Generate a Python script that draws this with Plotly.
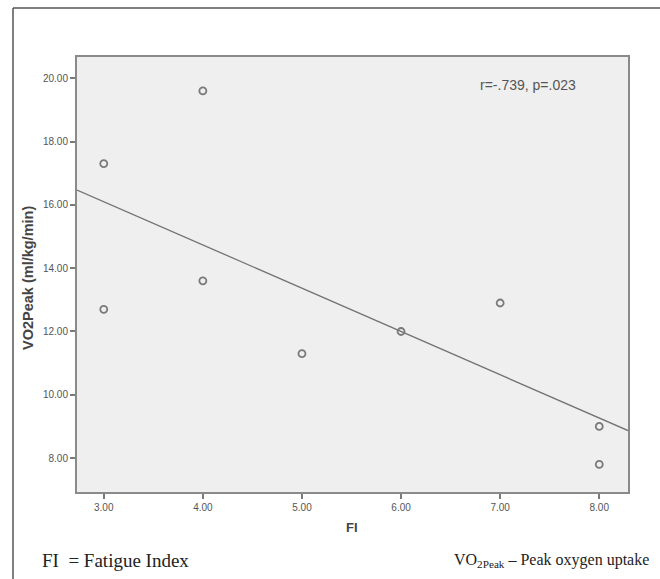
import numpy as np
import plotly.graph_objects as go

# Data
fi = [3, 3, 4, 4, 5, 6, 7, 8, 8]
vo2peak = [17.3, 12.7, 19.6, 13.6, 11.3, 12.0, 12.9, 9.0, 7.8]
x_ticks = [3, 4, 5, 6, 7, 8]
y_ticks = [8, 10, 12, 14, 16, 18, 20]
stat_text = "r=-.739, p=.023"
x_title = "FI"
y_title = "VO2Peak (ml/kg/min)"

W, H = 660, 579
L, R, T, B = 77, 32, 57, 87
pw, ph = W - L - R, H - T - B
xr = [2.73, 8.29]
yr = [6.93, 20.67]

def px(x):
    return (x - L) / pw

def py(y):
    return (H - B - y) / ph

slope, intercept = np.polyfit(fi, vo2peak, 1)
line_x = np.array(xr)
line_y = slope * line_x + intercept

fig = go.Figure()
fig.add_trace(go.Scatter(
    x=line_x, y=line_y, mode="lines",
    line=dict(color="#737373", width=1.3), hoverinfo="skip", showlegend=False))
fig.add_trace(go.Scatter(
    x=fi, y=vo2peak, mode="markers",
    marker=dict(symbol="circle-open", size=7, color="#7a7a7a", line=dict(width=1.8)),
    showlegend=False))

axis_common = dict(
    showgrid=False, zeroline=False, ticks="outside", ticklen=5, tickwidth=1.5,
    tickcolor="#7a7a7a", tickformat=".2f",
    tickfont=dict(family="Liberation Sans, Arial", size=10, color="#555555"),
    showline=True, linecolor="#8a8a8a", linewidth=2, mirror=True)

fig.update_xaxes(range=xr, tickvals=x_ticks, **axis_common)
fig.update_yaxes(range=yr, tickvals=y_ticks, **axis_common)

fig.update_layout(
    width=W, height=H, margin=dict(l=L, r=R, t=T, b=B),
    paper_bgcolor="white", plot_bgcolor="#efefef",
    font=dict(family="Liberation Sans, Arial"),
)

serif = "Liberation Serif, DejaVu Serif"
annotations = [
    dict(x=px(528), y=py(85), xref="paper", yref="paper", text=stat_text,
         xanchor="center", yanchor="middle", showarrow=False,
         font=dict(size=14, color="#555555", family="Liberation Sans, Arial")),
    dict(x=px(352), y=py(527), xref="paper", yref="paper", text="<b>%s</b>" % x_title,
         xanchor="center", yanchor="middle", showarrow=False,
         font=dict(size=13, color="#444444")),
    dict(x=px(28), y=py(278), xref="paper", yref="paper", text="<b>%s</b>" % y_title,
         xanchor="center", yanchor="middle", textangle=-90, showarrow=False,
         font=dict(size=14.5, color="#444444")),
    dict(x=px(40), y=py(560), xref="paper", yref="paper", xanchor="left", yanchor="middle",
         text="FI&nbsp;&nbsp;= Fatigue Index", showarrow=False,
         font=dict(size=19, color="#222222", family=serif)),
    dict(x=px(651), y=py(560), xref="paper", yref="paper", xanchor="right", yanchor="middle",
         text="VO<sub>2Peak</sub> \u2013 Peak oxygen uptake", showarrow=False,
         font=dict(size=16, color="#222222", family=serif)),
]
fig.update_layout(annotations=annotations)

shapes = [
    dict(type="line", xref="paper", yref="paper", x0=px(13), x1=px(13),
         y0=py(8), y1=py(579), line=dict(color="#555555", width=1.5)),
    dict(type="line", xref="paper", yref="paper", x0=px(13), x1=px(660),
         y0=py(8), y1=py(8), line=dict(color="#555555", width=1.5)),
]
fig.update_layout(shapes=shapes)

fig.write_html("out.html")
